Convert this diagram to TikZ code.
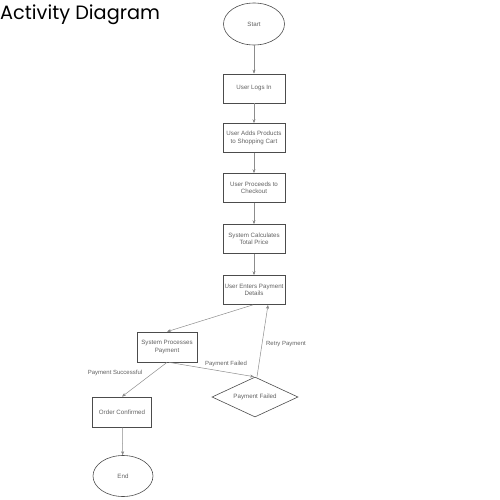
\documentclass[tikz,border=0pt]{standalone}
\usepackage{fontspec}
\setmainfont{Liberation Sans}
\newfontfamily\titlefont{Poppins}
\usetikzlibrary{shapes.geometric,arrows.meta}
\begin{document}
\begin{tikzpicture}[x=1pt,y=-1pt,
  font=\fontsize{6.2}{7.4}\selectfont,
  every node/.style={text=black!62, align=center, inner sep=1pt},
  act/.style={draw=black!70, line width=0.7pt, minimum width=62pt, minimum height=29pt},
  term/.style={ellipse, draw=black!70, line width=0.6pt, minimum width=61pt, minimum height=42pt},
  dec/.style={diamond, draw=black!70, line width=0.6pt, minimum width=86pt, minimum height=40pt, aspect=2.2, inner sep=0pt},
  flow/.style={draw=black!45, line width=0.5pt, -{Stealth[length=4pt,width=3pt,fill=black!85]}},
  lbl/.style={font=\fontsize{6}{7}\selectfont, text=black!62, inner sep=0pt}
]
\useasboundingbox (0,0) rectangle (500,500);
\node[anchor=base west, inner sep=0pt, text=black, font=\titlefont\fontsize{19.3}{22}\selectfont] (title) at (0,19.5) {Activity Diagram};

\node[term] (start) at (254,24) {Start};
\node[act] (login) at (254,88.5) {User Logs In};
\node[act] (cart) at (254,138) {User Adds Products\\to Shopping Cart};
\node[act] (checkout) at (254,188) {User Proceeds to\\Checkout};
\node[act] (total) at (254,239) {System Calculates\\Total Price};
\node[act] (details) at (254,290) {User Enters Payment\\Details};
\node[act, minimum width=60pt, minimum height=30pt] (process) at (167,347) {System Processes\\Payment};
\node[dec] (failed) at (255,397) {Payment Failed};
\node[act, minimum width=59pt, minimum height=30pt] (confirmed) at (122,412) {Order Confirmed};
\node[term, minimum width=60pt, minimum height=41pt] (end) at (123,476) {End};

\draw[flow] (start) -- (login);
\draw[flow] (login) -- (cart);
\draw[flow] (cart) -- (checkout);
\draw[flow] (checkout) -- (total);
\draw[flow] (total) -- (details);
\draw[flow] ([xshift=-1pt]details.south) -- (process.north);
\draw[flow] (process.south) -- (confirmed.north);
\draw[flow] ([xshift=2pt]process.south) -- ([xshift=-1pt]failed.north);
\draw[flow] ([xshift=2pt]failed.north) -- ([xshift=14pt]details.south);
\draw[flow] (confirmed) -- (end);

% edge labels
\node[lbl] (lsucc) at (115,373) {Payment Successful};
\node[lbl] (lfail) at (226,364) {Payment Failed};
\node[lbl] (lretry) at (286,344) {Retry Payment};
\end{tikzpicture}
\end{document}
